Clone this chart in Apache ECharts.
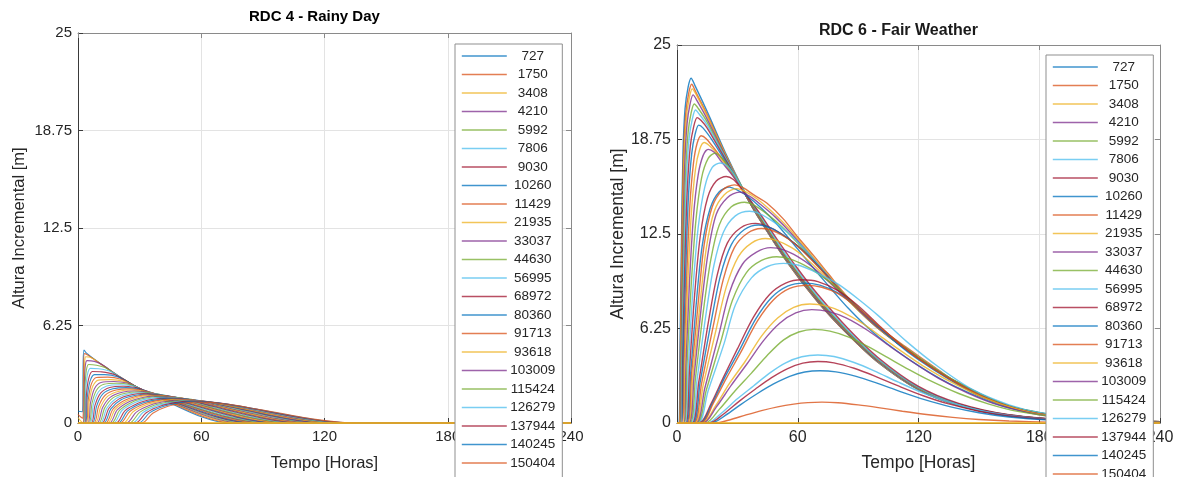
<!DOCTYPE html>
<html>
<head>
<meta charset="utf-8">
<script src="https://cdn.jsdelivr.net/npm/echarts@6/dist/echarts.min.js"></script>
<style>
  html, body { margin: 0; padding: 0; background: #ffffff; }
  #chart { width: 1177px; height: 477px; }
</style>
</head>
<body>
<div id="chart"></div>
<script>
// Station labels shown in both legends
const stationLabels = ['727', '1750', '3408', '4210', '5992', '7806', '9030', '10260', '11429', '21935',
  '33037', '44630', '56995', '68972', '80360', '91713', '93618', '103009', '115424', '126279',
  '137944', '140245', '150404'];

const hourTicks = [0, 60, 120, 180, 240];
const heightTicks = [0, 6.25, 12.5, 18.75, 25];

const lineColors = ['#0072BD', '#D95319', '#EDB120', '#7E2F8E', '#77AC30', '#4DBEEE', '#A2142F'];

// RDC 4 - rainy day: incremental height [m] vs time [h], one curve per station
const rainyDayCurves = [
  [[0,0.75],[2.2,0.72],[2.5,3.8],[2.9,4.68],[4,4.5],[10,3.9],[20,3.0],[30,2.2],[35,1.86],[74,0],[240,0]],
  [[0,0.55],[1.2,0.4],[2.4,0.3],[2.7,3.2],[3.1,4.45],[4.5,4.38],[10,3.88],[20,2.99],[30,2.2],[35,1.86],[76,0],[240,0]],
  [[0,0.35],[1.5,0.1],[2.6,0],[3,2.8],[3.3,4.0],[3.8,4.25],[6,4.22],[11,3.8],[20,2.98],[30,2.2],[35,1.87],[78,0],[240,0]],
  [[0,0],[2.7,0],[3.1,2.6],[3.6,3.7],[4.4,4.0],[8,3.95],[12,3.72],[20,2.97],[30,2.2],[35,1.87],[80,0],[240,0]],
  [[0,0],[2.9,0],[3.4,2.3],[4.1,3.4],[5.2,3.75],[9,3.7],[14,3.5],[20,2.96],[30,2.2],[35,1.88],[82,0],[240,0]],
  [[0,0],[3.1,0],[3.7,2.0],[4.6,3.1],[6,3.5],[10,3.48],[16,3.3],[22,2.8],[30,2.21],[35,1.88],[84,0],[240,0]],
  [[0,0],[3.4,0],[4.1,1.8],[5.2,2.85],[7,3.3],[11.5,3.28],[18,3.1],[24,2.66],[30,2.21],[35,1.89],[85,0],[240,0]],
  [[0,0],[3.7,0],[4.5,1.6],[5.8,2.65],[8,3.1],[13,3.1],[19.5,2.95],[25,2.57],[30,2.21],[35,1.89],[87,0],[240,0]],
  [[0,0],[4,0],[5,1.5],[6.5,2.5],[9,2.92],[14.5,2.94],[21,2.8],[26,2.48],[30,2.2],[35,1.9],[89,0],[240,0]],
  [[0,0],[4.4,0],[5.5,1.4],[7.2,2.35],[10,2.75],[16,2.78],[22.5,2.67],[27,2.4],[31,2.14],[35,1.9],[91,0],[240,0]],
  [[0,0],[4.8,0],[6.1,1.3],[8,2.2],[11.2,2.6],[17.5,2.66],[24,2.56],[28,2.34],[31.5,2.12],[35,1.9],[92,0],[240,0]],
  [[0,0],[5.3,0],[6.8,1.25],[9,2.1],[12.6,2.48],[19,2.55],[25.5,2.46],[29,2.28],[32,2.1],[35,1.91],[94,0],[240,0]],
  [[0,0],[5.8,0],[7.5,1.2],[10,2.0],[14,2.37],[20.5,2.45],[27,2.37],[30,2.23],[33,2.06],[36,1.88],[96,0],[240,0]],
  [[0,0],[6.4,0],[8.3,1.15],[11,1.92],[15.5,2.28],[22,2.36],[28,2.28],[31,2.17],[34,2.02],[37,1.86],[98,0],[240,0]],
  [[0,0],[7,0],[9.1,1.1],[12,1.85],[17,2.19],[23.5,2.27],[29,2.2],[32,2.1],[35,1.98],[38,1.85],[99,0],[240,0]],
  [[0,0],[7.7,0],[10,1.06],[13.2,1.78],[18.5,2.11],[25,2.19],[30,2.13],[33,2.04],[36,1.94],[39,1.83],[101,0],[240,0]],
  [[0,0],[8.4,0],[11,1.03],[14.5,1.72],[20,2.04],[26,2.12],[31,2.06],[35,1.96],[40,1.81],[103,0],[240,0]],
  [[0,0],[9.2,0],[12,1.0],[15.8,1.66],[21.5,1.97],[27.5,2.05],[32.5,2.0],[36,1.92],[41,1.79],[105,0],[240,0]],
  [[0,0],[10,0],[13,0.97],[17,1.61],[23,1.91],[29,1.99],[34,1.95],[38,1.87],[43,1.75],[106,0],[240,0]],
  [[0,0],[10.8,0],[14,0.95],[18.5,1.57],[24.5,1.86],[30.5,1.94],[35.5,1.9],[40,1.82],[45,1.71],[108,0],[240,0]],
  [[0,0],[11.6,0],[15,0.93],[19.8,1.53],[26,1.81],[32,1.89],[37,1.85],[42,1.76],[47,1.66],[110,0],[240,0]],
  [[0,0],[12.5,0],[16,0.91],[21,1.49],[27.5,1.76],[33.5,1.84],[38.5,1.81],[43.5,1.72],[49,1.62],[112,0],[240,0]],
  [[0,0],[13.4,0],[17,0.88],[22.5,1.44],[28.5,1.72],[34.5,1.80],[40,1.77],[45,1.69],[51,1.58],[113,0],[240,0]],
  [[0,0],[14.3,0],[18,0.86],[23.8,1.41],[30,1.68],[36,1.76],[41.5,1.73],[46.5,1.66],[52.5,1.55],[115,0],[240,0]],
  [[0,0],[15.2,0],[19.1,0.84],[25.1,1.38],[31.5,1.64],[37.5,1.72],[43,1.69],[48,1.62],[54,1.52],[117,0],[240,0]],
  [[0,0],[16.2,0],[20.3,0.82],[26.5,1.35],[33,1.6],[39.5,1.68],[45,1.65],[50,1.59],[56,1.49],[119,0],[240,0]],
  [[0,0],[17.2,0],[21.4,0.8],[27.8,1.31],[34.5,1.56],[41,1.64],[46.5,1.61],[51.5,1.55],[57.5,1.46],[120,0],[240,0]],
  [[0,0],[18.5,0],[22.8,0.78],[29.5,1.28],[36.5,1.52],[43,1.60],[48.5,1.57],[53.5,1.52],[59.5,1.43],[122,0],[240,0]],
  [[0,0],[19.5,0],[24,0.76],[30.8,1.25],[38,1.48],[45,1.56],[50.5,1.53],[55.5,1.48],[61,1.4],[124,0],[240,0]],
  [[0,0],[20.5,0],[25.2,0.74],[32.2,1.22],[39.5,1.45],[46.5,1.53],[52,1.5],[57,1.45],[62.5,1.37],[126,0],[240,0]],
  [[0,0],[22,0],[26.8,0.72],[34,1.2],[41.5,1.42],[48.5,1.5],[54,1.47],[59,1.42],[64.5,1.34],[127,0],[240,0]],
  [[0,0],[23.5,0],[28.4,0.7],[35.7,1.17],[43.3,1.39],[50.5,1.47],[56,1.44],[61,1.39],[66.5,1.31],[129,0],[240,0]],
  [[0,0],[25,0],[30,0.68],[37.4,1.15],[45,1.36],[52,1.44],[57.5,1.41],[62.5,1.36],[68,1.28],[131,0],[240,0]],
  [[0,0],[26.5,0],[31.6,0.67],[39,1.13],[46.6,1.34],[53.5,1.42],[59,1.39],[64,1.34],[69.5,1.26],[132,0],[240,0]],
  [[0,0],[28,0],[33.2,0.66],[40.6,1.11],[48.2,1.32],[55,1.40],[60.5,1.37],[65.5,1.32],[71,1.24],[134,0],[240,0]],
  [[0,0],[29.5,0],[34.8,0.65],[42.2,1.09],[49.8,1.3],[56.5,1.38],[62,1.35],[67,1.3],[72.5,1.22],[135,0],[240,0]],
  [[0,0],[31,0],[36.4,0.63],[43.8,1.07],[51.4,1.27],[58,1.35],[63.5,1.32],[68.5,1.27],[74,1.19],[136,0],[240,0]],
  [[0,0],[240,0]]
];

// RDC 6 - fair weather: incremental height [m] vs time [h], one curve per station
const fairWeatherCurves = [
  [[0,0],[1,0],[1.5,5],[2.2,12],[3,18],[4,20.8],[5.5,22.2],[7,22.8],[9,22.3],[15,20.6],[25,17.6],[35,14.9],[40,13.7],[55,10.6],[70,8.0],[85,5.85],[100,4.0],[120,2.2],[140,1.15],[165,0.48],[200,0.14],[240,0.04]],
  [[0,0],[1.2,0],[1.7,5],[2.4,12],[3.2,17.6],[4.3,20.4],[5.8,21.8],[7.3,22.4],[9.3,21.9],[15,20.4],[25,17.5],[35,14.85],[40,13.7],[55,10.6],[70,8.0],[85,5.85],[100,4.0],[120,2.2],[140,1.15],[165,0.48],[200,0.14],[240,0.04]],
  [[0,0],[1.4,0],[1.9,5],[2.6,11.8],[3.4,17.3],[4.6,20.1],[6.1,21.5],[7.6,22.1],[9.6,21.7],[15,20.3],[25,17.5],[35,14.85],[40,13.7],[55,10.62],[70,8.02],[85,5.87],[100,4.02],[120,2.21],[140,1.16],[165,0.48],[200,0.14],[240,0.04]],
  [[0,0],[1.6,0],[2.1,5],[2.9,11.6],[3.8,16.9],[5,19.8],[6.5,21.1],[8,21.7],[10,21.3],[15,20.1],[25,17.4],[35,14.85],[40,13.72],[55,10.64],[70,8.04],[85,5.88],[100,4.03],[120,2.22],[140,1.16],[165,0.49],[200,0.14],[240,0.04]],
  [[0,0],[1.8,0],[2.3,4.8],[3.2,11.2],[4.2,16.3],[5.5,19.2],[7,20.5],[8.6,21.1],[10.6,20.8],[15,19.9],[25,17.3],[35,14.85],[40,13.73],[55,10.66],[70,8.06],[85,5.9],[100,4.05],[120,2.23],[140,1.17],[165,0.49],[200,0.14],[240,0.04]],
  [[0,0],[2,0],[2.6,4.8],[3.5,11],[4.6,15.9],[6,18.8],[7.6,20.1],[9.2,20.7],[11.2,20.4],[15,19.7],[25,17.3],[35,14.86],[40,13.74],[55,10.68],[70,8.08],[85,5.92],[100,4.06],[120,2.24],[140,1.18],[165,0.5],[200,0.14],[240,0.04]],
  [[0,0],[2.2,0],[2.9,4.6],[3.9,10.6],[5.1,15.4],[6.6,18.3],[8.3,19.6],[10,20.2],[12,20.0],[15,19.5],[25,17.2],[35,14.87],[40,13.76],[55,10.7],[70,8.1],[85,5.94],[100,4.08],[120,2.25],[140,1.19],[165,0.5],[200,0.15],[240,0.04]],
  [[0,0],[2.4,0],[3.2,4.5],[4.4,10.3],[5.7,15],[7.3,17.8],[9,19.1],[10.8,19.7],[13,19.5],[18,18.6],[25,17.1],[35,14.88],[40,13.78],[55,10.72],[70,8.12],[85,5.96],[100,4.1],[120,2.26],[140,1.2],[165,0.51],[200,0.15],[240,0.04]],
  [[0,0],[2.7,0],[3.6,4.3],[4.9,9.9],[6.4,14.4],[8.2,17.2],[10,18.5],[12,19.0],[14.5,18.8],[20,17.9],[25,17.0],[35,14.9],[40,13.8],[55,10.75],[70,8.15],[85,5.98],[100,4.12],[120,2.28],[140,1.21],[165,0.51],[200,0.15],[240,0.04]],
  [[0,0],[3,0],[4,4.2],[5.5,9.6],[7.2,14],[9.2,16.8],[11.3,18.1],[13.5,18.55],[16,18.35],[20,17.8],[25,16.9],[35,14.9],[40,13.82],[55,10.78],[70,8.18],[85,6.0],[100,4.14],[120,2.29],[140,1.22],[165,0.52],[200,0.15],[240,0.04]],
  [[0,0],[3.3,0],[4.5,4.0],[6.2,9.3],[8.2,13.7],[10.5,16.4],[13,17.7],[15.5,18.1],[18.5,17.9],[22,17.3],[28,16.3],[35,14.92],[40,13.85],[55,10.8],[70,8.2],[85,6.02],[100,4.16],[120,2.3],[140,1.23],[165,0.52],[200,0.15],[240,0.04]],
  [[0,0],[3.6,0],[5,3.9],[7,9.0],[9.4,13.4],[12.2,16.2],[15.5,17.5],[19,17.85],[22.5,17.5],[27,16.7],[31,15.9],[35,15.0],[40,13.9],[55,10.85],[70,8.25],[85,6.05],[100,4.18],[120,2.32],[140,1.24],[165,0.53],[200,0.15],[240,0.04]],
  [[0,0],[4,0],[5.6,3.7],[7.8,8.6],[10.5,12.9],[13.8,15.6],[17.5,16.9],[21.5,17.2],[25,17.0],[29,16.3],[33,15.4],[37,14.6],[42,13.6],[55,10.95],[70,8.35],[85,6.12],[100,4.22],[120,2.35],[140,1.25],[165,0.53],[200,0.15],[240,0.04]],
  [[0,0],[4.4,0],[6.2,3.5],[8.6,8.2],[11.5,12.3],[15.2,14.9],[19.5,16.0],[24.5,16.3],[28,16.1],[32,15.5],[36,14.8],[42,13.7],[50,12.1],[60,10.2],[70,8.5],[85,6.25],[100,4.32],[120,2.42],[140,1.3],[165,0.55],[200,0.16],[240,0.04]],
  [[0,0],[4.8,0],[6.8,3.3],[9.5,7.8],[12.5,11.7],[16.5,14.2],[21,15.3],[26,15.6],[30,15.4],[35,15.0],[42,14.2],[50,13.1],[60,11.5],[70,9.9],[85,7.6],[100,5.7],[120,3.8],[140,2.3],[165,1.0],[200,0.28],[240,0.07]],
  [[0,0],[5.2,0],[7.3,3.3],[10.5,7.9],[13.5,11.8],[17.5,14.3],[22.5,15.4],[28.5,15.75],[33,15.55],[38,15.1],[44.6,14.55],[52.8,13.5],[60,12.3],[67.7,11.1],[75,9.9],[85,8.3],[100,6.4],[114,5.0],[130,3.5],[147,2.0],[165,1.12],[180,0.62],[210,0.22],[240,0.08]],
  [[0,0],[5.6,0],[7.9,3.2],[11.3,7.7],[14.5,11.5],[18.5,14.0],[23.5,15.1],[29.5,15.5],[34,15.3],[40,14.8],[47,14.0],[55,12.95],[70,10.6],[85,8.25],[100,6.35],[120,4.35],[140,2.65],[165,1.13],[200,0.31],[240,0.08]],
  [[0,0],[6,0],[8.5,3.1],[12,7.6],[15.5,11.3],[19.5,13.8],[25,14.9],[31,15.27],[36,15.0],[42,14.4],[49,13.6],[57,12.5],[70,10.5],[85,8.2],[100,6.3],[120,4.3],[140,2.62],[165,1.12],[200,0.31],[240,0.08]],
  [[0,0],[6.5,0],[9.2,3.0],[13,7.3],[16.8,10.8],[21,13.1],[27,14.3],[33.5,14.6],[38.5,14.4],[45,13.8],[52,13.0],[60,11.9],[70,10.45],[85,8.15],[100,6.25],[120,4.3],[140,2.6],[165,1.11],[200,0.3],[240,0.08]],
  [[0,0],[7,0],[10,2.9],[14.2,7.0],[18.3,10.4],[23,12.6],[29,13.7],[36,14.0],[41,13.85],[48,13.3],[55,12.6],[62,11.7],[70,10.5],[85,8.2],[100,6.35],[120,4.35],[140,2.65],[165,1.13],[200,0.31],[240,0.08]],
  [[0,0],[7.5,0],[10.8,2.7],[15.5,6.6],[20,9.8],[25,11.9],[31.5,12.9],[39,13.2],[45,13.0],[52,12.5],[60,11.7],[70,10.4],[85,8.2],[100,6.3],[120,4.3],[140,2.6],[165,1.1],[200,0.3],[240,0.08]],
  [[0,0],[8,0],[11.5,2.7],[16.7,6.5],[21.5,9.7],[27,11.8],[33.5,12.8],[40.5,13.1],[46.5,12.9],[53,12.4],[61,11.6],[70,10.4],[85,8.15],[100,6.25],[120,4.28],[140,2.6],[165,1.1],[200,0.3],[240,0.08]],
  [[0,0],[8.5,0],[12.2,2.6],[18,6.4],[23,9.5],[28.5,11.6],[35,12.55],[42,12.86],[48,12.7],[55,12.2],[62,11.45],[70,10.35],[85,8.2],[100,6.3],[120,4.3],[140,2.62],[165,1.12],[200,0.31],[240,0.08]],
  [[0,0],[9,0],[13,2.5],[19.3,6.1],[24.5,9.0],[30.5,11.0],[37,11.9],[44,12.2],[50,12.05],[57,11.6],[64,10.9],[72,9.9],[85,8.1],[100,6.25],[120,4.3],[140,2.62],[165,1.12],[200,0.31],[240,0.08]],
  [[0,0],[9.5,0],[13.8,2.3],[20.7,5.8],[26,8.6],[32.5,10.5],[39.5,11.3],[46.5,11.6],[53,11.45],[60,11.0],[67,10.35],[75,9.4],[87,7.9],[100,6.3],[120,4.3],[140,2.63],[165,1.13],[200,0.31],[240,0.08]],
  [[0,0],[10,0],[14.6,2.2],[22,5.5],[27.5,8.1],[34.5,9.95],[42,10.75],[49.5,11.0],[56,10.85],[63,10.45],[70,9.9],[78,9.1],[88,7.9],[100,6.4],[120,4.35],[140,2.65],[165,1.14],[200,0.32],[240,0.08]],
  [[0,0],[10.5,0],[15.4,2.1],[23.5,5.3],[29,7.8],[37,9.6],[45,10.35],[53,10.56],[60,10.45],[67,10.1],[74.4,9.6],[81,9.1],[90,8.2],[100,7.1],[114,5.4],[130,3.7],[147,2.2],[165,1.2],[180,0.7],[210,0.24],[240,0.08]],
  [[0,0],[11,0],[17,1.3],[23,3.0],[30,4.9],[38,7.0],[46,8.5],[54,9.25],[62,9.47],[70,9.35],[80,8.75],[90,7.75],[100,6.5],[110,5.3],[120,4.25],[135,2.95],[150,1.85],[165,1.08],[180,0.6],[210,0.2],[240,0.07]],
  [[0,0],[11.5,0],[17.5,1.3],[23.5,2.95],[31,4.8],[39,6.85],[47,8.3],[55,9.05],[63,9.25],[71,9.12],[80,8.6],[90,7.6],[100,6.4],[110,5.2],[120,4.18],[135,2.9],[150,1.82],[165,1.06],[180,0.59],[210,0.2],[240,0.07]],
  [[0,0],[12,0],[18,1.3],[24.5,2.95],[32,4.75],[40,6.75],[48,8.15],[56,8.9],[64.5,9.1],[72,8.98],[80,8.55],[90,7.6],[100,6.45],[110,5.3],[120,4.25],[135,2.95],[150,1.86],[165,1.08],[180,0.6],[210,0.21],[240,0.07]],
  [[0,0],[12.5,0],[19,1.1],[26,2.6],[34,4.1],[42,5.75],[50,6.95],[58,7.65],[66,7.87],[74,7.75],[82,7.35],[92,6.6],[102,5.65],[112,4.7],[122,3.8],[137,2.65],[152,1.7],[167,1.0],[182,0.55],[210,0.2],[240,0.06]],
  [[0,0],[13,0],[19.5,1.05],[27,2.5],[35,3.95],[43,5.45],[51,6.6],[59,7.28],[67,7.5],[75,7.38],[84,6.95],[95,6.1],[106,5.05],[118,3.95],[130,2.95],[145,1.95],[160,1.18],[180,0.55],[210,0.19],[240,0.06]],
  [[0,0],[14,0],[21,0.9],[29,2.15],[37,3.3],[45,4.5],[53,5.5],[60.5,6.02],[68,6.19],[76,6.08],[85,5.7],[95,5.05],[105,4.3],[115,3.55],[125,2.85],[140,1.95],[155,1.25],[170,0.75],[190,0.38],[215,0.14],[240,0.05]],
  [[0,0],[15,0],[22,0.65],[30,1.6],[38,2.45],[46,3.3],[54,3.98],[62,4.38],[70,4.5],[78,4.4],[88,4.0],[98,3.45],[110,2.7],[122,2.0],[135,1.38],[150,0.85],[165,0.5],[185,0.24],[210,0.09],[240,0.03]],
  [[0,0],[16,0],[23,0.58],[31,1.45],[39,2.25],[47,3.0],[55,3.6],[62.5,3.96],[70,4.07],[78,3.98],[88,3.62],[98,3.12],[110,2.45],[122,1.82],[135,1.26],[150,0.78],[165,0.46],[185,0.22],[210,0.08],[240,0.03]],
  [[0,0],[17,0],[24,0.5],[32,1.25],[40,1.95],[48,2.58],[56,3.08],[63.5,3.37],[71,3.46],[79,3.38],[89,3.08],[99,2.65],[111,2.08],[123,1.55],[136,1.07],[150,0.68],[165,0.4],[185,0.19],[210,0.07],[240,0.02]],
  [[0,0],[19,0],[26,0.2],[34,0.52],[42,0.82],[50,1.07],[58,1.25],[65,1.35],[72,1.38],[80,1.34],[90,1.2],[100,1.02],[112,0.78],[124,0.56],[137,0.37],[150,0.23],[165,0.13],[185,0.06],[210,0.02],[240,0.01]],
  [[0,0],[240,0]]
];

const FONT = '"Liberation Sans", Arial, Helvetica, sans-serif';
const TEXT_COLOR = '#262626';

function mainAxes(gridIndex, fontSize, xNameGap, yNameGap, labelMargin) {
  const x = {
    type: 'value', gridIndex: gridIndex,
    min: hourTicks[0], max: hourTicks[hourTicks.length - 1], interval: hourTicks[1] - hourTicks[0],
    name: 'Tempo [Horas]', nameLocation: 'middle', nameGap: xNameGap,
    nameTextStyle: { fontFamily: FONT, fontSize: fontSize + 1.5, color: TEXT_COLOR },
    axisLine: { show: true, onZero: false, lineStyle: { color: '#3a3a3a', width: 1 } },
    axisTick: { show: true, inside: true, length: 5, lineStyle: { color: '#3a3a3a' } },
    axisLabel: { fontFamily: FONT, fontSize: fontSize, color: TEXT_COLOR, margin: labelMargin },
    splitLine: { show: true, lineStyle: { color: '#e3e3e3', width: 1 } }
  };
  const y = {
    type: 'value', gridIndex: gridIndex,
    min: heightTicks[0], max: heightTicks[heightTicks.length - 1], interval: heightTicks[1] - heightTicks[0],
    name: 'Altura Incremental [m]', nameLocation: 'middle', nameGap: yNameGap,
    nameTextStyle: { fontFamily: FONT, fontSize: fontSize + 1.5, color: TEXT_COLOR },
    axisLine: { show: true, onZero: false, lineStyle: { color: '#3a3a3a', width: 1 } },
    axisTick: { show: true, inside: true, length: 5, lineStyle: { color: '#3a3a3a' } },
    axisLabel: { fontFamily: FONT, fontSize: fontSize, color: TEXT_COLOR, margin: 6 },
    splitLine: { show: true, lineStyle: { color: '#e3e3e3', width: 1 } }
  };
  return { x: x, y: y };
}

// Top and right axes close the box around each plot (ticks only, no labels)
function boxAxes(gridIndex) {
  const common = {
    type: 'value', gridIndex: gridIndex,
    axisLine: { show: true, onZero: false, lineStyle: { color: '#8a8a8a', width: 1 } },
    axisTick: { show: true, inside: true, length: 5, lineStyle: { color: '#8a8a8a' } },
    axisLabel: { show: false },
    splitLine: { show: false }
  };
  return {
    x: Object.assign({}, common, {
      position: 'top',
      min: hourTicks[0], max: hourTicks[hourTicks.length - 1], interval: hourTicks[1] - hourTicks[0]
    }),
    y: Object.assign({}, common, {
      position: 'right',
      min: heightTicks[0], max: heightTicks[heightTicks.length - 1], interval: heightTicks[1] - heightTicks[0]
    })
  };
}

const leftMain = mainAxes(0, 15, 32, 50, 6);
const leftBox = boxAxes(0);
const rightMain = mainAxes(1, 16, 31, 50, 7);
const rightBox = boxAxes(1);

function buildSeries(curves, xAxisIndex, yAxisIndex, width) {
  return curves.map(function (pts, i) {
    const s = {
      type: 'line',
      xAxisIndex: xAxisIndex,
      yAxisIndex: yAxisIndex,
      data: pts,
      symbol: 'none',
      showSymbol: false,
      smooth: 0.3,
      clip: true,
      silent: true,
      color: lineColors[i % lineColors.length],
      lineStyle: { width: (i === curves.length - 1) ? 2 : width, opacity: 0.8 },
      z: 2
    };
    if (i < stationLabels.length) s.name = stationLabels[i];
    return s;
  });
}

// The legend box runs on past the bottom edge of the canvas
function legendAt(left, top) {
  return {
    show: true,
    orient: 'vertical',
    left: left, top: top,
    height: 700,
    data: stationLabels,
    selectedMode: false,
    itemWidth: 45, itemHeight: 14, itemGap: 4.5,
    padding: [5, 7, 40, 6],
    backgroundColor: '#ffffff',
    borderColor: '#8f8f8f', borderWidth: 1, borderRadius: 0,
    itemStyle: { opacity: 0, borderWidth: 0 },
    lineStyle: { width: 1.6, opacity: 0.75 },
    formatter: function (name) { return '{t|' + name + '}'; },
    textStyle: {
      rich: { t: { width: 42, align: 'center', fontFamily: FONT, fontSize: 13.5, color: TEXT_COLOR } }
    },
    z: 10
  };
}

const option = {
  animation: false,
  backgroundColor: '#ffffff',
  title: [
    { text: 'RDC 4 - Rainy Day', left: 249, top: 9, padding: 0,
      textStyle: { fontFamily: FONT, fontSize: 15, fontWeight: 'bold', color: '#000000' } },
    { text: 'RDC 6 - Fair Weather', left: 819, top: 23, padding: 0,
      textStyle: { fontFamily: FONT, fontSize: 16, fontWeight: 'bold', color: '#1a1a1a' } }
  ],
  grid: [
    { left: 78, top: 33, width: 493, height: 390, containLabel: false },
    { left: 677, top: 45, width: 483, height: 381, containLabel: false }
  ],
  xAxis: [leftMain.x, leftBox.x, rightMain.x, rightBox.x],
  yAxis: [leftMain.y, leftBox.y, rightMain.y, rightBox.y],
  legend: [legendAt(455, 44), legendAt(1046, 55)],
  series: buildSeries(rainyDayCurves, 0, 0, 1.1).concat(buildSeries(fairWeatherCurves, 2, 2, 1.4))
};

const chart = echarts.init(document.getElementById('chart'), null, { renderer: 'canvas' });
chart.setOption(option);
</script>
</body>
</html>
